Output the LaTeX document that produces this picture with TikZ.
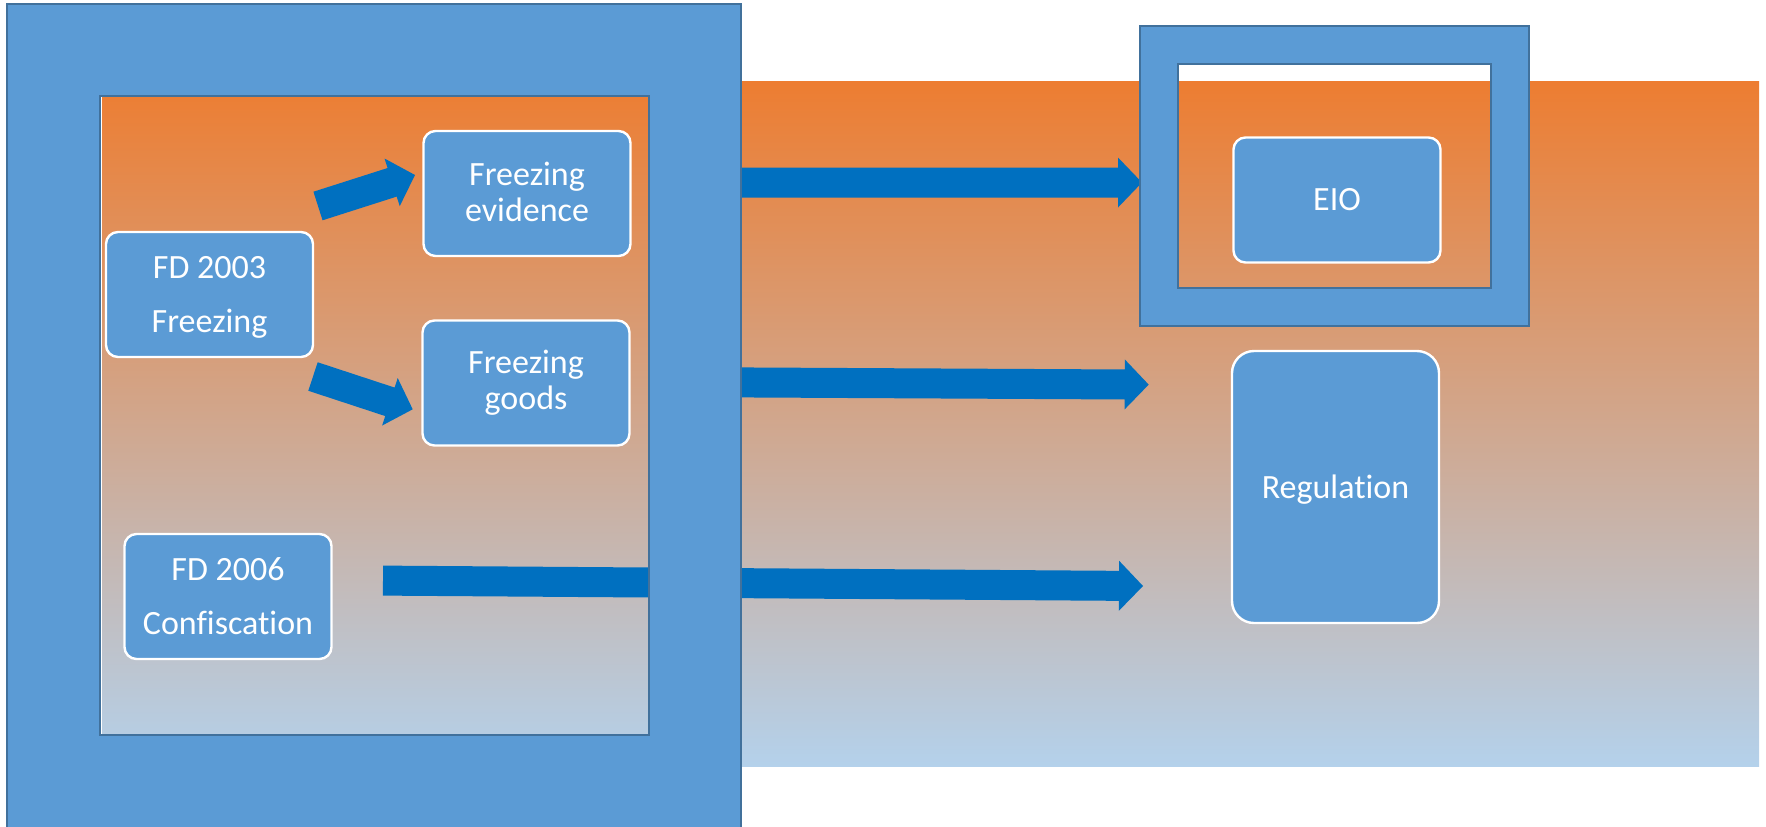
\documentclass[tikz,border=0pt]{standalone}
\usepackage{fontspec}
\setmainfont{Carlito}[Ligatures=NoCommon]
\usetikzlibrary{calc}

\definecolor{frameblue}{HTML}{5B9BD5}
\definecolor{frameline}{HTML}{41719C}
\definecolor{arrowblue}{HTML}{0070C0}
\definecolor{gradtop}{HTML}{ED7D31}
\definecolor{gradbot}{HTML}{B4D1EB}

\tikzset{
  box/.style={draw=white, line width=1.2pt, fill=frameblue, rounded corners=6pt,
    text=white, font=\fontsize{17}{18}\selectfont, align=center, inner sep=0pt,
    minimum width=103.5pt, minimum height=62.5pt},
  windowframe/.style={fill=frameblue, even odd rule, draw=frameline, line width=1pt},
  blockfill/.style={fill=arrowblue},
}

% block arrow from coordinate #1 to tip coordinate #2
% shaft half width 7.5pt, head half width 12.5pt, head length 12pt
\newcommand\blockarrow[2]{%
  \coordinate (#1-base) at ($(#2)!12pt!(#1)$);
  \fill[blockfill]
    ($(#1)!7.5pt!90:(#2)$) -- ($(#1-base)!7.5pt!90:(#2)$) --
    ($(#1-base)!12.5pt!90:(#2)$) -- (#2) --
    ($(#1-base)!12.5pt!-90:(#2)$) -- ($(#1-base)!7.5pt!-90:(#2)$) --
    ($(#1)!7.5pt!-90:(#2)$) -- cycle;
}

\begin{document}
\begin{tikzpicture}[x=0.5pt, y=-0.5pt]
  \useasboundingbox (0,0) rectangle (1766,826);
  \clip (0,0) rectangle (1766,826);

  % shaded background band
  \fill[top color=gradtop, bottom color=gradbot] (102,81) rectangle (1759,766);

  % arrow end points
  \coordinate (a1s) at (318,206);   \coordinate (a1t) at (415,175);
  \coordinate (a2s) at (313,376.5); \coordinate (a2t) at (412.7,409.3);
  \coordinate (h1s) at (700,182.5); \coordinate (h1t) at (1142,182.5);
  \coordinate (h2s) at (700,382.2); \coordinate (h2t) at (1148.7,384.6);
  \coordinate (h3s) at (383,580.6); \coordinate (h3t) at (1143,586);

  \blockarrow{a1s}{a1t}
  \blockarrow{a2s}{a2t}
  \blockarrow{h1s}{h1t}
  \blockarrow{h2s}{h2t}
  \blockarrow{h3s}{h3t}

  % frames with open windows
  \path[windowframe] (7,4) rectangle (741,840) (100,95.5) rectangle (649,734.5);
  \path[windowframe] (1140,26) rectangle (1529,326) (1178,64) rectangle (1491,288);

  % boxes
  \node[box] (fd03) at (209.5,294.5) {\rule{0pt}{13.7pt}FD 2003\\[9pt]Freezing};
  \node[box] (fev)  at (527,193.5)   {Freezing\\evidence\rule[-1.5pt]{0pt}{0pt}};
  \node[box] (fgo)  at (526,383)     {Freezing\\goods};
  \node[box] (fd06) at (228,596.5)   {FD 2006\\[9pt]Confiscation};
  \node[box] (eio)  at (1337,200)    {EIO};
  \node[box, minimum height=136pt, rounded corners=11pt, text depth=0pt] (reg) at (1335.5,487) {Regulation};
\end{tikzpicture}
\end{document}
